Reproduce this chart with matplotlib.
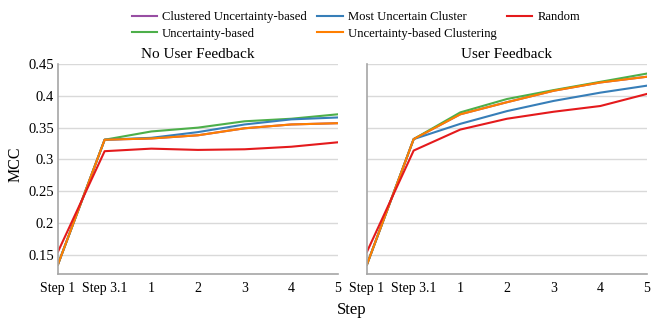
import matplotlib
matplotlib.use("Agg")
import matplotlib.pyplot as plt

plt.rcParams['font.family'] = ['Liberation Serif', 'DejaVu Serif']

steps = ["Step 1", "Step 3.1", "1", "2", "3", "4", "5"]

no_fb_clustered_unc = [0.135, 0.331, 0.333, 0.338, 0.349, 0.355, 0.357]
no_fb_most_unc = [0.135, 0.331, 0.334, 0.343, 0.355, 0.363, 0.366]
no_fb_random = [0.155, 0.313, 0.317, 0.315, 0.316, 0.320, 0.327]
no_fb_unc = [0.135, 0.331, 0.344, 0.350, 0.360, 0.364, 0.371]
no_fb_unc_clust = [0.135, 0.331, 0.333, 0.338, 0.349, 0.355, 0.357]

fb_clustered_unc = [0.135, 0.332, 0.371, 0.390, 0.408, 0.421, 0.430]
fb_most_unc = [0.135, 0.332, 0.356, 0.376, 0.392, 0.405, 0.416]
fb_random = [0.155, 0.314, 0.347, 0.364, 0.375, 0.384, 0.403]
fb_unc = [0.135, 0.332, 0.374, 0.395, 0.409, 0.422, 0.435]
fb_unc_clust = [0.135, 0.332, 0.371, 0.390, 0.408, 0.421, 0.430]

names = ["Clustered Uncertainty-based", "Uncertainty-based", "Most Uncertain Cluster",
         "Uncertainty-based Clustering", "Random"]
colors = ["#984ea3", "#4daf4a", "#377eb8", "#ff7f00", "#e41a1c"]

fig = plt.figure(figsize=(6.64, 3.32), dpi=100)
ax1 = fig.add_axes([0.0873, 0.1747, 0.4217, 0.6325])
ax2 = fig.add_axes([0.5527, 0.1747, 0.4217, 0.6325])

panels = [
    (ax1, "No User Feedback", [no_fb_clustered_unc, no_fb_unc, no_fb_most_unc, no_fb_unc_clust, no_fb_random]),
    (ax2, "User Feedback", [fb_clustered_unc, fb_unc, fb_most_unc, fb_unc_clust, fb_random]),
]
x = list(range(len(steps)))
handles = []
for ax, title, series in panels:
    hs = []
    for name, col, ys in zip(names, colors, series):
        h, = ax.plot(x, ys, color=col, lw=1.5, label=name)
        hs.append(h)
    handles = hs
    ax.set_xlim(0, 6)
    ax.set_ylim(0.12, 0.45)
    ax.set_xticks(x)
    ax.set_xticklabels(steps, fontsize=10)
    ax.set_yticks([0.15, 0.2, 0.25, 0.3, 0.35, 0.4, 0.45])
    ax.grid(axis='y', color='#d9d9d9', lw=1)
    ax.set_axisbelow(True)
    for s in ['top', 'right']:
        ax.spines[s].set_visible(False)
    for s in ['left', 'bottom']:
        ax.spines[s].set_color('#a6a6a6')
        ax.spines[s].set_linewidth(1.2)
    ax.tick_params(axis='x', length=0, pad=6)
    ax.tick_params(axis='y', length=0, pad=3)
    ax.set_title(title, fontsize=11, pad=4)

ax1.set_yticklabels(["0.15", "0.2", "0.25", "0.3", "0.35", "0.4", "0.45"], fontsize=10.5)
ax2.set_yticklabels([])
fig.text(0.024, 0.505, "MCC", fontsize=11.5, rotation=90, ha='center', va='center')
fig.text(0.53, 0.065, "Step", fontsize=12, ha='center', va='center')

leg = fig.legend(handles, names,
                 ncol=3, loc='upper center', bbox_to_anchor=(0.536, 1.0),
                 frameon=False, fontsize=9.1, handlelength=2.0, columnspacing=0.85,
                 handletextpad=0.4, labelspacing=0.35)

fig.savefig("out.png", dpi=100)
